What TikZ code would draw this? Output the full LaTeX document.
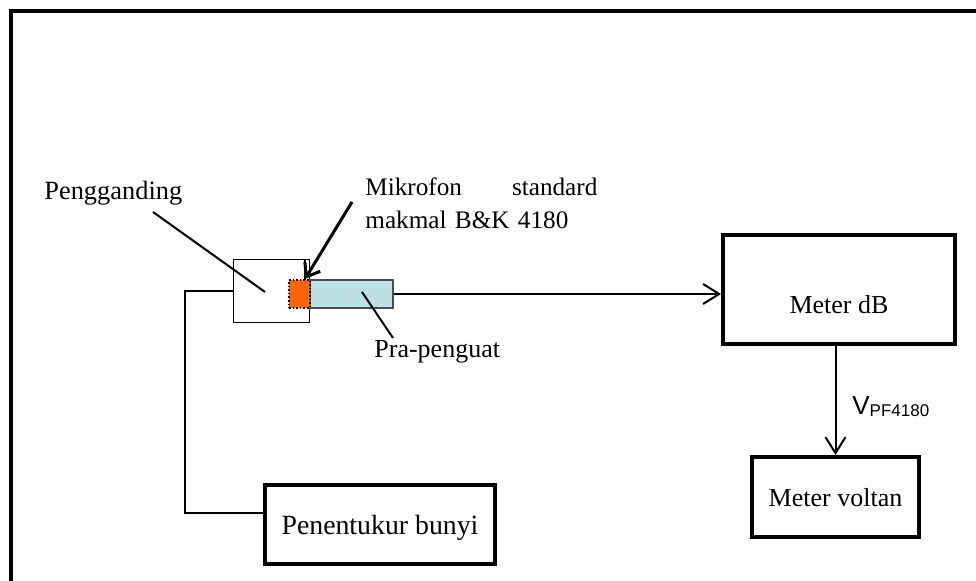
\documentclass[tikz,border=0pt]{standalone}
\usepackage{fontspec}
\setmainfont{Liberation Serif}
\newfontfamily\arialfont{Liberation Sans}
\usetikzlibrary{positioning,arrows.meta}
\definecolor{micorange}{RGB}{255,102,0}
\definecolor{preblue}{RGB}{188,224,228}

\begin{document}
\begin{tikzpicture}[x=0.5pt, y=-0.5pt, >={Straight Barb[length=8pt,width=10pt]},
    meter/.style={draw, line width=2pt, inner sep=0pt, font=\fontsize{13}{15}\selectfont},
    lbl/.style={inner sep=0pt, anchor=base west, font=\fontsize{13}{15}\selectfont},
    wire/.style={line width=1pt}]
    % Frame
    \useasboundingbox (0,0) rectangle (976,581);
    \clip (0,0) rectangle (976,581);
    \draw[line width=2pt] (11,11) rectangle (1000,600);

    % Meters
    \node[meter, minimum width=116pt, text height=39.5pt, text depth=15pt] (mdb) at (839,289.5) {Meter dB};
    \node[meter, minimum width=83.5pt, text height=25pt, text depth=15pt] (vlt) at (835.5,497) {Meter voltan};
    \node[meter, minimum width=115pt, text height=25pt, text depth=14.5pt, font=\fontsize{13.9}{16}\selectfont] (pnt) at (380,524.5) {Penentukur bunyi};

    % Coupler, preamplifier and microphone
    \node[draw, line width=0.6pt, minimum width=38pt, minimum height=31.5pt, inner sep=0pt] (pgd) at (271.5,291) {};
    \draw[line width=0.6pt] (305,259) -- (305,280);
    \node[draw=black!70, fill=preblue, line width=0.6pt, minimum width=41.5pt, minimum height=14pt, inner sep=0pt] (pre) at (351.5,294) {};
    \node[draw, densely dotted, fill=micorange, line width=0.8pt, minimum width=10.5pt, minimum height=14pt, inner sep=0pt] (mic) at (299.5,294) {};

    % Labels
    \node[lbl, font=\fontsize{13.2}{15}\selectfont] (pgdtxt) at (44,200) {Pengganding};
    \node[lbl, text width=116pt, align=left, font=\fontsize{12.6}{16.5}\selectfont] (mictxt) at (365,196) {Mikrofon\hfill standard\\makmal B\&K 4180\hfill\mbox{}};
    \node[lbl] (pretxt) at (374,358) {Pra-penguat};
    \node[inner sep=0pt, anchor=base west, font=\arialfont\fontsize{13}{15}\selectfont] (vtxt) at (852,415) {V\raisebox{-1pt}{\fontsize{8.5}{10}\selectfont PF4180}};

    % Leader lines
    \coordinate (pgdend) at (153,212);
    \coordinate (pgdin) at (265,292);
    \coordinate (micend) at (352,202);
    \coordinate (micin) at (305,279);
    \coordinate (preend) at (393,338);
    \coordinate (prein) at (362,292);
    \draw[wire] (pgdend) -- (pgdin);
    \draw[line width=1.5pt, -{Straight Barb[length=6pt,width=9pt]}] (micend) -- (micin);
    \draw[wire] (preend) -- (prein);

    % Connections
    \draw[wire] (pgd.west) -| (185,513) -- (pnt.west |- 0,513);
    \draw[wire, ->] (pre.east) -- (mdb.west |- pre.east);
    \draw[wire, ->] (mdb.south -| vlt.north) -- (vlt.north);
\end{tikzpicture}
\end{document}
